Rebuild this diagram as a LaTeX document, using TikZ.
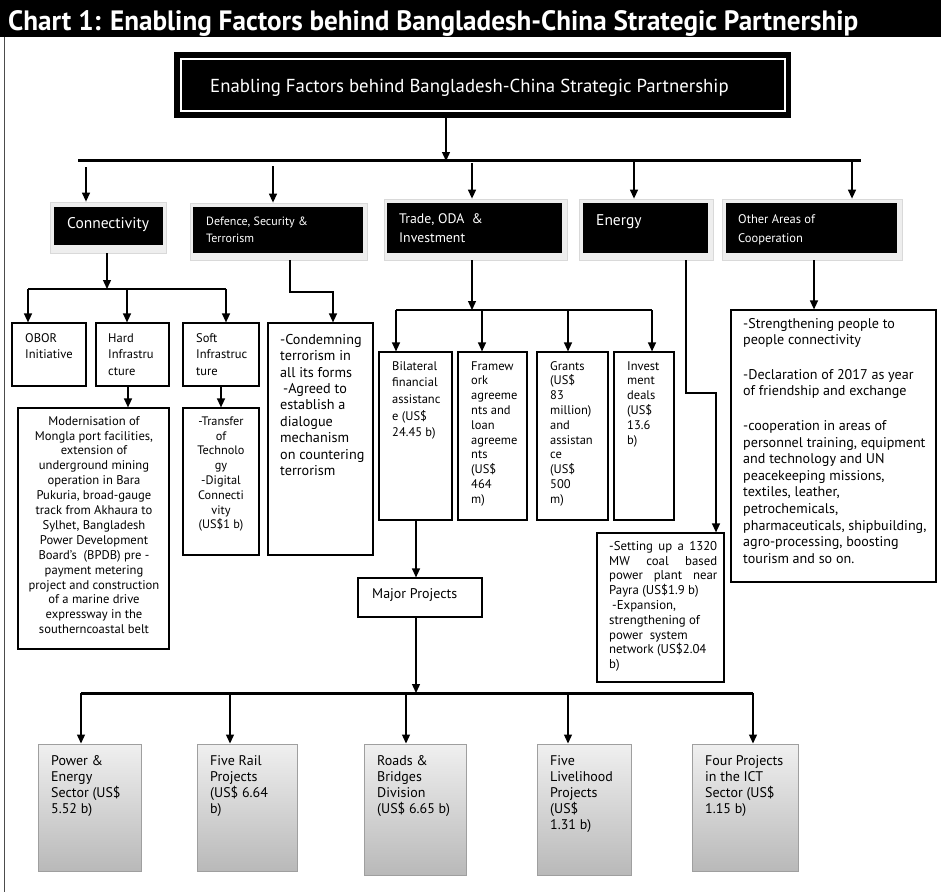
\documentclass[tikz,border=0pt]{standalone}
\usepackage{fontspec}
\usepackage{graphicx}
\setmainfont{PT Sans}
\newfontfamily\titlefont[FakeStretch=0.97]{PT Sans}
\usetikzlibrary{arrows.meta,fit}
\newcommand\fsz[2]{\fontsize{#1}{#2}\selectfont}
\newcommand\tp{\rule{0pt}{0.75em}}
\tikzset{
  link/.style={line width=1.3pt},
  arr/.style={link, -{Triangle[width=8pt,length=9pt]}},
  bigbar/.style={line width=3pt},
  wbox/.style={draw=black, line width=1.2pt, fill=white, inner sep=0pt},
  blk/.style={fill=black, inner sep=0pt},
  shd/.style={fill=gray!13, draw=gray!30, line width=0.8pt, inner sep=0pt},
  gbox/.style={top color=gray!12, bottom color=gray!55, draw=gray!75, line width=1pt, inner sep=0pt},
  txt/.style={inner sep=0pt, anchor=base west, align=left},
  wtxt/.style={txt, text=white},
  tt/.style={inner sep=0pt, anchor=north west, align=left},
  ct/.style={inner sep=0pt, anchor=north, align=center},
}
\begin{document}
\begin{tikzpicture}[x=1pt,y=-1pt]
\useasboundingbox (0,0) rectangle (941,892);
% title band
\node[fit={(0,0) (941,37)}, blk] (band) {};
\node[wtxt, font=\titlefont\bfseries\fsz{28}{30}] (title) at (8,30) {Chart 1: Enabling Factors behind Bangladesh-China Strategic Partnership};
\draw[gray!60!black, line width=0.8pt] (4,37) -- (4,892);

% main box
\node[fit={(174,52) (791,118)}, blk] (main) {};
\node[fit={(181,59) (785,111)}, draw=white, line width=1.5pt, inner sep=0pt] (maininner) {};
\node[wtxt, font=\fsz{18.8}{20}] (maint) at (210,92) {Enabling Factors behind Bangladesh-China Strategic Partnership};

\coordinate (m1) at (446,161);
\draw[arr] (main.south -| m1) -- (m1);
\coordinate (bL) at (78,160);
\coordinate (bR) at (861,160);
\draw[bigbar] (bL) -- (bR);

% category boxes
\node[fit={(50,202) (166,253)}, shd] (connS) {};
\node[fit={(54,207) (163,245)}, blk] (conn) {};
\node[wtxt, font=\fsz{15.5}{18}] (connt) at (67,228) {Connectivity};

\node[fit={(190,203) (367,260)}, shd] (defS) {};
\node[fit={(193,207) (363,253)}, blk] (def) {};
\node[tt, text=white, font=\fsz{12}{17}] (deft) at (206,216) {\tp Defence, Security \&\\Terrorism};

\node[fit={(384,199) (567,260)}, shd] (tradeS) {};
\node[fit={(387,203) (562,253)}, blk] (trade) {};
\node[tt, text=white, font=\fsz{13.8}{19}] (tradet) at (399,212.7) {\tp Trade, ODA~~\&\\Investment};

\node[fit={(579,199) (713,260)}, shd] (energyS) {};
\node[fit={(583,203) (708,253)}, blk] (energy) {};
\node[wtxt, font=\fsz{15.5}{18}] (energyt) at (596,225) {Energy};

\node[fit={(722,199) (902,260)}, shd] (otherS) {};
\node[fit={(726,203) (897,253)}, blk] (other) {};
\node[tt, text=white, font=\fsz{12.5}{19}] (othert) at (738,213.6) {\tp Other Areas of\\Cooperation};

% category arrows
\coordinate (c1) at (86,167);
\coordinate (c2) at (273,166);
\coordinate (c3) at (472,163);
\coordinate (c4) at (634,162);
\coordinate (c5) at (852,160);
\draw[arr] (c1) -- (c1 |- connS.north);
\draw[arr] (c2) -- (c2 |- defS.north);
\draw[arr] (c3) -- (c3 |- tradeS.north);
\draw[arr] (c4) -- (c4 |- energyS.north);
\draw[arr] (c5) -- (c5 |- otherS.north);

% connectivity subtree
\node[fit={(12,323) (86,386)}, wbox] (obor) {};
\node[tt, font=\fsz{12.5}{16.5}] (obort) at (25,332.6) {\tp OBOR\\Initiative};
\node[fit={(96,323) (169,386)}, wbox] (hard) {};
\node[tt, font=\fsz{12.5}{16.5}] (hardt) at (108,332.6) {\tp Hard\\Infrastru\\cture};
\node[fit={(183,323) (259,386)}, wbox] (soft) {};
\node[tt, font=\fsz{12.5}{16.5}] (softt) at (196,332.6) {\tp Soft\\Infrastruc\\ture};

\coordinate (cb) at (107,289);
\coordinate (cbL) at (28,289);
\coordinate (cbR) at (226,289);
\draw[arr] (connS.south -| cb) -- (cb);
\draw[line width=2.2pt] (cbL) -- (cbR);
\draw[arr] (cbL) -- (cbL |- obor.north);
\draw[arr] (cb -| 127,0) -- (hard.north -| 127,0);
\draw[arr] (cbR) -- (cbR |- soft.north);

\node[fit={(18,408) (169,649)}, wbox] (hardd) {};
\node[ct, font=\fsz{12.6}{14.9}] (harddt) at (94,415.5) {\tp Modernisation of\\Mongla port facilities,\\extension of\\underground mining\\operation in Bara\\Pukuria, broad-gauge\\track from Akhaura to\\Sylhet, Bangladesh\\Power Development\\Board’s~~(BPDB) pre -\\payment metering\\project and construction\\of a marine drive\\expressway in the\\southerncoastal belt};
\node[fit={(183,408) (259,555)}, wbox] (softd) {};
\node[ct, font=\fsz{12.3}{14.8}] (softdt) at (221,415.8) {\tp -Transfer\\of\\Technolo\\gy\\-Digital\\Connecti\\vity\\(US\$1 b)};
\draw[arr] (hard.south -| 128,0) -- (hardd.north -| 128,0);
\draw[arr] (soft.south) -- (softd.north);

% defence subtree
\node[fit={(268,323) (373,555)}, wbox] (defd) {};
\node[tt, font=\fsz{14.2}{16.4}] (defdt) at (280,333.4) {\tp -Condemning\\terrorism in\\all its forms\\\hspace*{3pt}-Agreed to\\establish a\\dialogue\\mechanism\\on countering\\terrorism};
\coordinate (d1) at (290,292);
\coordinate (d2) at (333,292);
\draw[arr] (defS.south -| d1) -- (d1) -- (d2) -- (d2 |- defd.north);

% trade subtree
\coordinate (t1) at (472,310);
\coordinate (tL) at (396,310);
\coordinate (tR) at (652,310);
\draw[arr] (tradeS.south -| t1) -- (t1);
\draw[line width=1.5pt] (tL) -- (tR);
\node[fit={(379,352) (452,520)}, wbox] (bil) {};
\node[tt, font=\fsz{12.5}{16.7}] (bilt) at (392,360.6) {\tp Bilateral\\financial\\assistanc\\e (US\$\\24.45 b)};
\node[fit={(458,352) (527,520)}, wbox] (frame) {};
\node[tt, font=\fsz{12.5}{14.8}] (framet) at (471,360.6) {\tp Framew\\ork\\agreeme\\nts and\\loan\\agreeme\\nts\\(US\$\\464\\m)};
\node[fit={(537,352) (608,520)}, wbox] (grant) {};
\node[tt, font=\fsz{12.5}{14.8}] (grantt) at (550,360.6) {\tp Grants\\(US\$\\83\\million)\\and\\assistan\\ce\\(US\$\\500\\m)};
\node[fit={(614,352) (674,520)}, wbox] (invest) {};
\node[tt, font=\fsz{12.5}{14.8}] (investt) at (627,360.6) {\tp Invest\\ment\\deals\\(US\$\\13.6\\b)};
\draw[arr] (tL) -- (tL |- bil.north);
\draw[arr] (t1 -| 482,0) -- (frame.north -| 482,0);
\draw[arr] (t1 -| 568,0) -- (grant.north -| 568,0);
\draw[arr] (tR) -- (tR |- invest.north);

\node[fit={(358,578) (482,617)}, wbox] (major) {};
\node[txt, font=\fsz{14}{16}] (majort) at (372,598) {Major Projects};
\coordinate (mp) at (416,0);
\draw[arr] (bil.south -| mp) -- (major.north -| mp);

% bottom bar
\coordinate (pb) at (416,693);
\coordinate (pL) at (81,693);
\coordinate (pR) at (753,693);
\draw[arr] (major.south -| pb) -- (pb);
\draw[bigbar] (pL) -- (pR);

\node[fit={(38,744) (141,871)}, gbox] (p1) {};
\node[fit={(197,744) (297,871)}, gbox] (p2) {};
\node[fit={(364,744) (466,875)}, gbox] (p3) {};
\node[fit={(537,744) (631,875)}, gbox] (p4) {};
\node[fit={(692,744) (798,871)}, gbox] (p5) {};
\draw[arr] (pL) -- (pL |- p1.north);
\draw[arr] (pb -| 230,0) -- (p2.north -| 230,0);
\draw[arr] (pb -| 406,0) -- (p3.north -| 406,0);
\draw[arr] (pb -| 568,0) -- (p4.north -| 568,0);
\draw[arr] (pR) -- (pR |- p5.north);
\node[tt, font=\fsz{14}{16}] (p1t) at (51,754.5) {\tp Power \&\\Energy\\Sector (US\$\\5.52 b)};
\node[tt, font=\fsz{14}{16}] (p2t) at (210,754.5) {\tp Five Rail\\Projects\\(US\$ 6.64\\b)};
\node[tt, font=\fsz{14}{16}] (p3t) at (377,754.5) {\tp Roads \&\\Bridges\\Division\\(US\$ 6.65 b)};
\node[tt, font=\fsz{14}{16}] (p4t) at (550,754.5) {\tp Five\\Livelihood\\Projects\\(US\$\\1.31 b)};
\node[tt, font=\fsz{14}{16}] (p5t) at (705,754.5) {\tp Four Projects\\in the ICT\\Sector (US\$\\1.15 b)};

% energy subtree
\node[fit={(597,533) (724,682)}, wbox] (energyd) {};
\node[tt, font=\fsz{12.8}{14.8}] (energydt) at (609,540.4) {\tp\makebox[108pt][s]{-Setting up a 1320}\\\makebox[108pt][s]{MW coal based}\\\makebox[108pt][s]{power plant near}\\Payra (US\$1.9 b)\\\hspace*{3pt}-Expansion,\\strengthening of\\power~~system\\network (US\$2.04\\b)};
\coordinate (e1) at (686,393);
\coordinate (e2) at (716,393);
\draw[arr] (energyS.south -| e1) -- (e1) -- (e2) -- (e2 |- energyd.north);

% other subtree
\node[fit={(731,310) (936,582)}, wbox] (otherd) {};
\node[tt, font=\fsz{14.1}{16.6}] (otherdt) at (743,317.4) {\tp -Strengthening people to\\people connectivity\\[18pt]-Declaration of 2017 as year\\of friendship and exchange\\[18pt]-cooperation in areas of\\personnel training, equipment\\and technology and UN\\peacekeeping missions,\\textiles, leather,\\petrochemicals,\\pharmaceuticals, shipbuilding,\\agro-processing, boosting\\tourism and so on.};
\coordinate (o1) at (814,0);
\draw[arr] (otherS.south -| o1) -- (otherd.north -| o1);
\end{tikzpicture}
\end{document}
